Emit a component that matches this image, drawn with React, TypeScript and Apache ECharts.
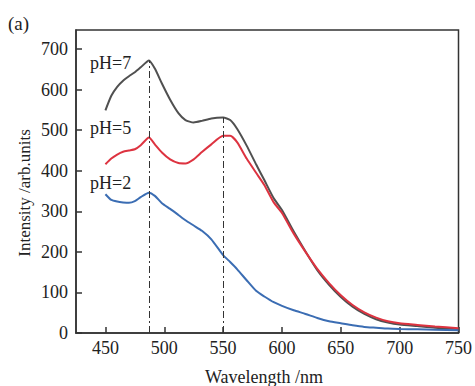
import React, { useEffect, useRef } from "react";
import * as echarts from "echarts";

const wavelengths = [450, 455, 460, 465, 470, 475, 480, 487, 492, 498, 505, 512, 518, 525, 532, 540, 550, 556, 562, 570, 578, 585, 593, 600, 610, 620, 630, 640, 650, 660, 670, 680, 690, 700, 715, 730, 750];
const ph7 = [549, 585, 607, 622, 633, 643, 655, 672, 652, 615, 575, 542, 525, 519, 523, 529, 531, 525, 503, 462, 416, 377, 332, 303, 250, 201, 155, 119, 89, 65, 47, 34, 26, 21, 17, 13, 10];
const ph5 = [416, 430, 440, 447, 450, 453, 463, 482, 465, 445, 428, 419, 418, 428, 446, 465, 486, 486, 470, 430, 395, 365, 322, 296, 245, 200, 158, 123, 93, 69, 51, 38, 29, 24, 20, 16, 12];
const ph2 = [342, 328, 324, 322, 321, 325, 335, 346, 338, 320, 306, 291, 278, 265, 252, 231, 192, 175, 157, 130, 104, 90, 76, 67, 56, 47, 37, 29, 24, 19, 15, 13, 11, 10, 9, 8, 7];
const seriesNames = ["pH=7", "pH=5", "pH=2"];
const xTicks = [450, 500, 550, 600, 650, 700, 750];
const yTicks = [0, 100, 200, 300, 400, 500, 600, 700];
const peakLines = [
  [487, 672],
  [550, 531],
];

const FONT = "'Liberation Serif', 'Times New Roman', 'DejaVu Serif', serif";

export default function App() {
  const ref = useRef<HTMLDivElement>(null);
  useEffect(() => {
    if (!ref.current) return;
    const chart = echarts.init(ref.current, null, { renderer: "svg" });
    const toPairs = (vals: number[]) => wavelengths.map((w, i) => [w, vals[i]]);
    const colors = ["#505050", "#dd3340", "#3b6db3"];
    const zs = [3, 4, 3];
    const datasets = [ph7, ph5, ph2];
    const series: any[] = datasets.map((d, i) => ({
      type: "line",
      name: seriesNames[i],
      data: toPairs(d),
      showSymbol: false,
      symbol: "none",
      smooth: 0.2,
      lineStyle: { color: colors[i], width: 2 },
      z: zs[i],
    }));
    series.push({
      type: "line",
      data: [],
      markLine: {
        silent: true,
        symbol: "none",
        label: { show: false },
        lineStyle: { color: "#333", width: 1, type: [7, 3, 2, 3] },
        data: peakLines.map(([x, y]) => [{ coord: [x, 0] }, { coord: [x, y] }]),
      },
    });
    const txt = (text: string, x: number, y: number, size: number, extra: any = {}) => ({
      type: "text",
      x,
      y,
      ...extra,
      style: { text, fontFamily: FONT, fontSize: size, fill: "#222", verticalAlign: "middle", ...(extra.style || {}) },
    });
    chart.setOption({
      animation: false,
      grid: {
        left: 76,
        top: 30,
        right: 16,
        bottom: 53,
        show: true,
        borderColor: "#333",
        borderWidth: 1.5,
      },
      xAxis: {
        type: "value",
        min: 425,
        max: 750,
        axisLine: { lineStyle: { color: "#333", width: 1.5 } },
        axisTick: { inside: true, length: 6, customValues: xTicks, lineStyle: { color: "#333", width: 1.5 } },
        axisLabel: { customValues: xTicks, color: "#222", fontFamily: FONT, fontSize: 18, margin: 6 },
        splitLine: { show: false },
      },
      yAxis: {
        type: "value",
        min: 0,
        max: 747,
        axisLine: { show: true, lineStyle: { color: "#333", width: 1.5 } },
        axisTick: { show: true, inside: true, length: 6, customValues: yTicks, lineStyle: { color: "#333", width: 1.5 } },
        axisLabel: { customValues: yTicks, color: "#222", fontFamily: FONT, fontSize: 18, margin: 8 },
        splitLine: { show: false },
      },
      graphic: [
        txt("(a)", 8, 23, 19),
        txt(seriesNames[0], 90, 63, 18),
        txt(seriesNames[1], 90, 128, 18),
        txt(seriesNames[2], 90, 183, 18),
        txt("Wavelength /nm", 264, 377, 18, { style: { align: "center" } }),
        txt("Intensity /arb.units", 24, 193, 17, { rotation: Math.PI / 2, style: { align: "center" } }),
      ],
      series,
    });
    return () => chart.dispose();
  }, []);
  return <div ref={ref} style={{ width: 475, height: 386, position: "absolute", left: 0, top: 0 }} />;
}
